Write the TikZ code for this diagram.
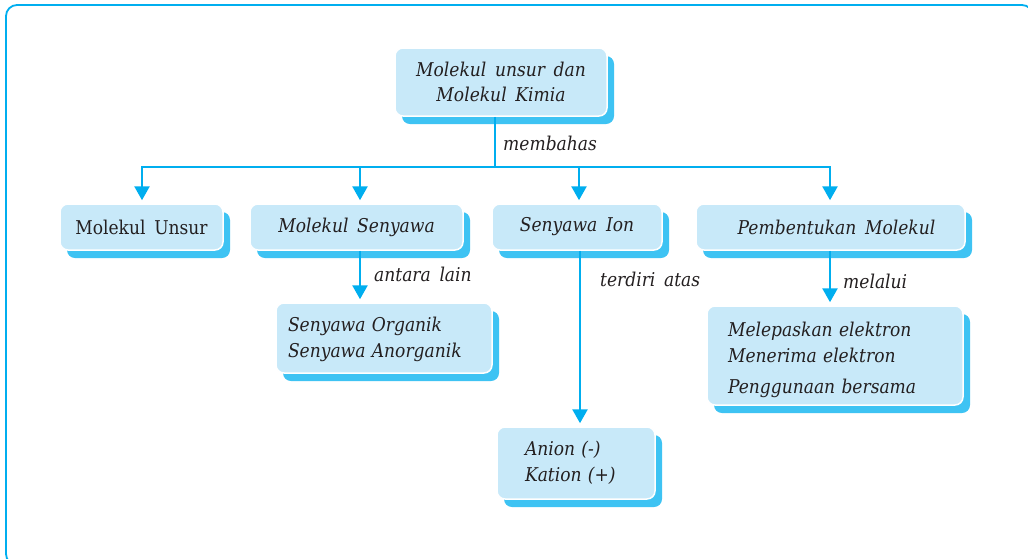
\documentclass[tikz,border=0pt]{standalone}
\usepackage{fontspec}
\setmainfont[WordSpace=1.6, FakeStretch=0.9]{DejaVu Serif}
\usetikzlibrary{arrows.meta,shadows}
\definecolor{cy}{HTML}{00AEEF}
\definecolor{shd}{HTML}{3EC3F3}
\definecolor{bfill}{HTML}{C8E9F9}
\definecolor{txt}{HTML}{231F20}
\tikzset{
  box/.style={rectangle, rounded corners=8pt, fill=bfill, draw=white, line width=1.5pt,
    inner sep=0pt, text=txt, font=\fontsize{19}{25.5}\selectfont\itshape,
    general shadow={shadow xshift=7pt, shadow yshift=-8pt, fill=shd, draw=none}},
  lbl/.style={anchor=base west, inner sep=0pt, text=txt, font=\fontsize{19}{25}\selectfont\itshape},
  conn/.style={draw=cy, line width=2.6pt},
  arr/.style={conn, -{Triangle[width=15pt,length=14pt]}, shorten >=3pt},
}
\begin{document}
\begin{tikzpicture}[x=1pt,y=-1pt]
\useasboundingbox (0,0) rectangle (1028,558);
\draw[draw=cy, line width=1.8pt, rounded corners=11pt] (6,5) rectangle (1033,565);
% boxes
\node[box, minimum width=212pt, minimum height=68pt, align=center] (top) at (501,82) {Molekul unsur dan\\Molekul Kimia};
\node[box, minimum width=163pt, minimum height=46pt, font=\fontsize{19}{25}\selectfont\upshape] (unsur) at (141.5,227) {Molekul Unsur};
\node[box, minimum width=213pt, minimum height=46pt] (senyawa) at (356.5,227) {Molekul Senyawa};
\node[box, minimum width=170pt, minimum height=46pt] (ion) at (577,227) {Senyawa Ion};
\node[box, minimum width=269pt, minimum height=46pt] (bentuk) at (830.5,227) {\hspace*{12pt}Pembentukan Molekul};
\node[box, minimum height=70pt, inner xsep=12pt, text width=192pt, align=left] (organik) at (384,338) {\rule{0pt}{17pt}Senyawa Organik\\Senyawa Anorganik};
\node[box, minimum height=72pt, inner xsep=28pt, text width=102pt, align=left] (anion) at (576,463) {Anion (-)\\Kation (+)};
\node[box, minimum height=99pt, inner xsep=21pt, text width=214pt, align=left] (lepas) at (835,355.5) {\rule{0pt}{24pt}Melepaskan elektron\\Menerima elektron\\[6pt]Penggunaan bersama};
% connectors
\coordinate (hub) at (495,167);
\coordinate (c1) at (142,167);
\coordinate (c2) at (360,167);
\coordinate (c3) at (579,167);
\coordinate (c4) at (830,167);
\draw[conn] (top.south -| hub) -- (hub);
\draw[conn, line cap=rect] (c1) -- (c4);
\draw[arr] (c1) -- (c1 |- unsur.north);
\draw[arr] (c2) -- (c2 |- senyawa.north);
\draw[arr] (c3) -- (c3 |- ion.north);
\draw[arr] (c4) -- (c4 |- bentuk.north);
\coordinate (d2) at (360,250);
\coordinate (d3) at (580,250);
\coordinate (d4) at (830,250);
\draw[arr] (d2 |- senyawa.south) -- (d2 |- organik.north);
\draw[arr] (d3 |- ion.south) -- (d3 |- anion.north);
\draw[arr] (d4 |- bentuk.south) -- (d4 |- lepas.north);
% labels
\node[lbl] (lmem) at (503,150) {membahas};
\node[lbl] (lant) at (374,281) {antara lain};
\node[lbl] (lter) at (600,286) {terdiri atas};
\node[lbl] (lmel) at (843,288) {melalui};
\end{tikzpicture}
\end{document}
